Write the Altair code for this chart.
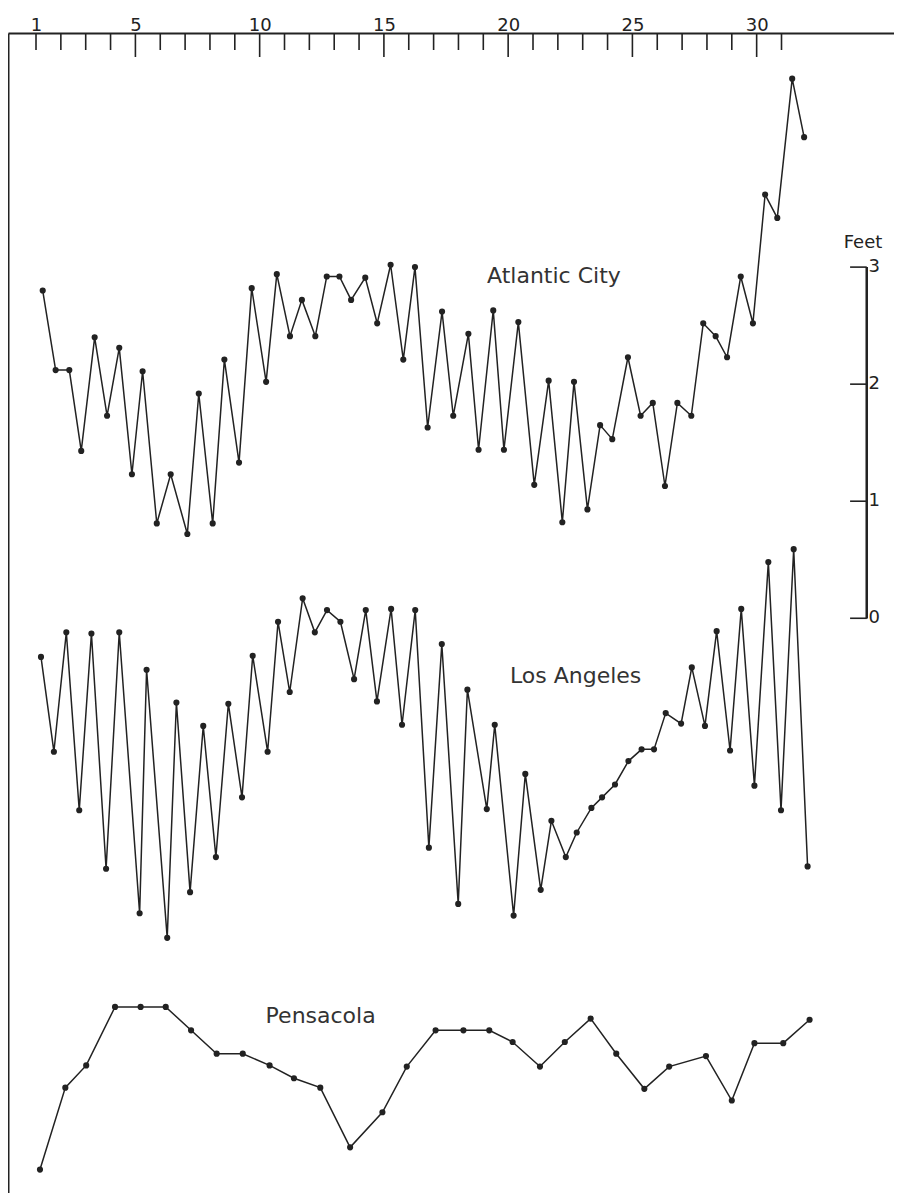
import altair as alt
import pandas as pd

# ---- data ----
tick_days = list(range(1, 32))
major_days = [5, 10, 15, 20, 25, 30]
label_days = [1, 5, 10, 15, 20, 25, 30]
feet_ticks = [0, 1, 2, 3]

ac_day = [1.27, 1.79, 2.34, 2.82, 3.36, 3.86, 4.35, 4.86, 5.29, 5.86,
          6.42, 7.09, 7.55, 8.11, 8.58, 9.17, 9.68, 10.26, 10.69, 11.22,
          11.70, 12.24, 12.70, 13.21, 13.68, 14.25, 14.73, 15.27, 15.78, 16.25,
          16.76, 17.34, 17.79, 18.40, 18.81, 19.40, 19.83, 20.41, 21.05, 21.63,
          22.18, 22.65, 23.19, 23.70, 24.19, 24.82, 25.33, 25.82, 26.31, 26.81,
          27.37, 27.85, 28.35, 28.81, 29.36, 29.85, 30.34, 30.83, 31.43, 31.91]
ac_ft = [2.80, 2.12, 2.12, 1.43, 2.40, 1.73, 2.31, 1.23, 2.11, 0.81,
         1.23, 0.72, 1.92, 0.81, 2.21, 1.33, 2.82, 2.02, 2.94, 2.41,
         2.72, 2.41, 2.92, 2.92, 2.72, 2.91, 2.52, 3.02, 2.21, 3.00,
         1.63, 2.62, 1.73, 2.43, 1.44, 2.63, 1.44, 2.53, 1.14, 2.03,
         0.82, 2.02, 0.93, 1.65, 1.53, 2.23, 1.73, 1.84, 1.13, 1.84,
         1.73, 2.52, 2.41, 2.23, 2.92, 2.52, 3.62, 3.42, 4.61, 4.11]

la_day = [1.20, 1.72, 2.22, 2.74, 3.23, 3.82, 4.35, 5.17, 5.45, 6.28,
          6.65, 7.20, 7.73, 8.24, 8.74, 9.29, 9.72, 10.32, 10.74, 11.21,
          11.73, 12.22, 12.71, 13.25, 13.80, 14.27, 14.72, 15.29, 15.73, 16.26,
          16.81, 17.33, 17.99, 18.36, 19.14, 19.46, 20.22, 20.69, 21.31, 21.74,
          22.32, 22.76, 23.35, 23.78, 24.30, 24.84, 25.37, 25.87, 26.34, 26.96,
          27.39, 27.92, 28.39, 28.93, 29.38, 29.91, 30.47, 30.98, 31.49, 32.05]
la_ft = [-0.33, -1.14, -0.12, -1.64, -0.13, -2.14, -0.12, -2.52, -0.44, -2.73,
         -0.72, -2.34, -0.92, -2.04, -0.73, -1.53, -0.32, -1.14, -0.03, -0.63,
         0.17, -0.12, 0.07, -0.03, -0.52, 0.07, -0.71, 0.08, -0.91, 0.07,
         -1.96, -0.22, -2.44, -0.61, -1.63, -0.91, -2.54, -1.33, -2.32, -1.73,
         -2.04, -1.83, -1.62, -1.53, -1.42, -1.22, -1.12, -1.12, -0.81, -0.90,
         -0.42, -0.92, -0.11, -1.13, 0.08, -1.43, 0.48, -1.64, 0.59, -2.12]

pe_day = [1.16, 2.18, 3.02, 4.18, 5.21, 6.22, 7.24, 8.27, 9.32, 10.40,
          11.38, 12.44, 13.64, 14.94, 15.92, 17.08, 18.20, 19.24, 20.18, 21.28,
          22.28, 23.32, 24.35, 25.48, 26.48, 27.96, 29.00, 29.91, 31.07, 32.13]
pe_ft = [-4.71, -4.01, -3.82, -3.32, -3.32, -3.32, -3.52, -3.72, -3.72, -3.82,
         -3.93, -4.01, -4.52, -4.22, -3.83, -3.52, -3.52, -3.52, -3.62, -3.83,
         -3.62, -3.42, -3.72, -4.02, -3.83, -3.74, -4.12, -3.63, -3.63, -3.43]

station_names = ["Atlantic City", "Los Angeles", "Pensacola"]
station_label_day = [19.15, 20.07, 10.24]
station_label_ft = [2.86, -0.55, -3.46]

# ---- tables ----
df = pd.concat([
    pd.DataFrame({"series": "Atlantic City", "day": ac_day, "ft": ac_ft}),
    pd.DataFrame({"series": "Los Angeles", "day": la_day, "ft": la_ft}),
    pd.DataFrame({"series": "Pensacola", "day": pe_day, "ft": pe_ft}),
], ignore_index=True)
minor_df = pd.DataFrame({"day": [d for d in tick_days if d not in major_days]})
major_df = pd.DataFrame({"day": major_days})
names_df = pd.DataFrame({"name": station_names, "day": station_label_day, "ft": station_label_ft})
feet_df = pd.DataFrame({"ft": feet_ticks})

INK = "#222222"
FONT = "DejaVu Sans"

xs = alt.Scale(domain=[-0.127, 35.527], nice=False, zero=False)
ys = alt.Scale(domain=[-4.91, 5.0], nice=False, zero=False)
x_axis = alt.Axis(orient="top", values=label_days, tickSize=0, labelFontSize=18,
                  labelFont=FONT, labelColor=INK, domainColor=INK, domainWidth=2,
                  grid=False, title=None, labelPadding=3, labelBaseline="alphabetic",
                  labelFlush=False, labelOverlap=False, format="d")
y_axis = alt.Axis(orient="left", ticks=False, labels=False, grid=False, title=None,
                  domainColor=INK, domainWidth=2)

X = lambda f: alt.X(f, scale=xs, axis=x_axis)
Y = lambda f: alt.Y(f, scale=ys, axis=y_axis)

lines = alt.Chart(df).mark_line(color=INK, strokeWidth=1.5).encode(
    x=X("day:Q"), y=Y("ft:Q"), detail="series:N", order="day:Q")
points = alt.Chart(df).mark_circle(color=INK, size=38, opacity=1).encode(
    x=X("day:Q"), y=Y("ft:Q"))

minor_ticks = alt.Chart(minor_df).mark_rule(color=INK, strokeWidth=1.6).encode(
    x=X("day:Q"), y=alt.value(0), y2=alt.value(17))
major_ticks = alt.Chart(major_df).mark_rule(color=INK, strokeWidth=1.6).encode(
    x=X("day:Q"), y=alt.value(0), y2=alt.value(24))

names = alt.Chart(names_df).mark_text(align="left", baseline="alphabetic", fontSize=22,
                                      font=FONT, color="#333333").encode(
    x=X("day:Q"), y=Y("ft:Q"), text="name:N")

feet_line = alt.Chart(feet_df).mark_rule(color=INK, strokeWidth=1.8).encode(
    x=alt.datum(34.43, scale=xs), y=alt.datum(0), y2=alt.datum(3))
feet_tick_marks = alt.Chart(feet_df).mark_rule(color=INK, strokeWidth=1.6).encode(
    x=alt.datum(33.76), x2=alt.datum(34.43), y=Y("ft:Q"))
feet_labels = alt.Chart(feet_df).mark_text(align="left", baseline="middle", fontSize=18,
                                           font=FONT, color=INK, dx=0).encode(
    x=alt.datum(34.5), y=Y("ft:Q"), text="ft:Q")
feet_title = alt.Chart(feet_df.head(1)).mark_text(align="center", baseline="alphabetic",
                                                  fontSize=18, font=FONT, color=INK,
                                                  text="Feet").encode(
    x=alt.datum(34.28), y=alt.datum(3.16))

chart = alt.layer(
    lines, points, minor_ticks, major_ticks, names,
    feet_line, feet_tick_marks, feet_labels, feet_title,
).properties(
    width=886, height=1160,
    padding={"left": 0, "top": 25, "right": 0, "bottom": 0},
    autosize=alt.AutoSizeParams(type="none"),
    background="white",
).configure_view(stroke=None)

chart.save("out.html", embed_options={"renderer": "svg", "actions": False})
